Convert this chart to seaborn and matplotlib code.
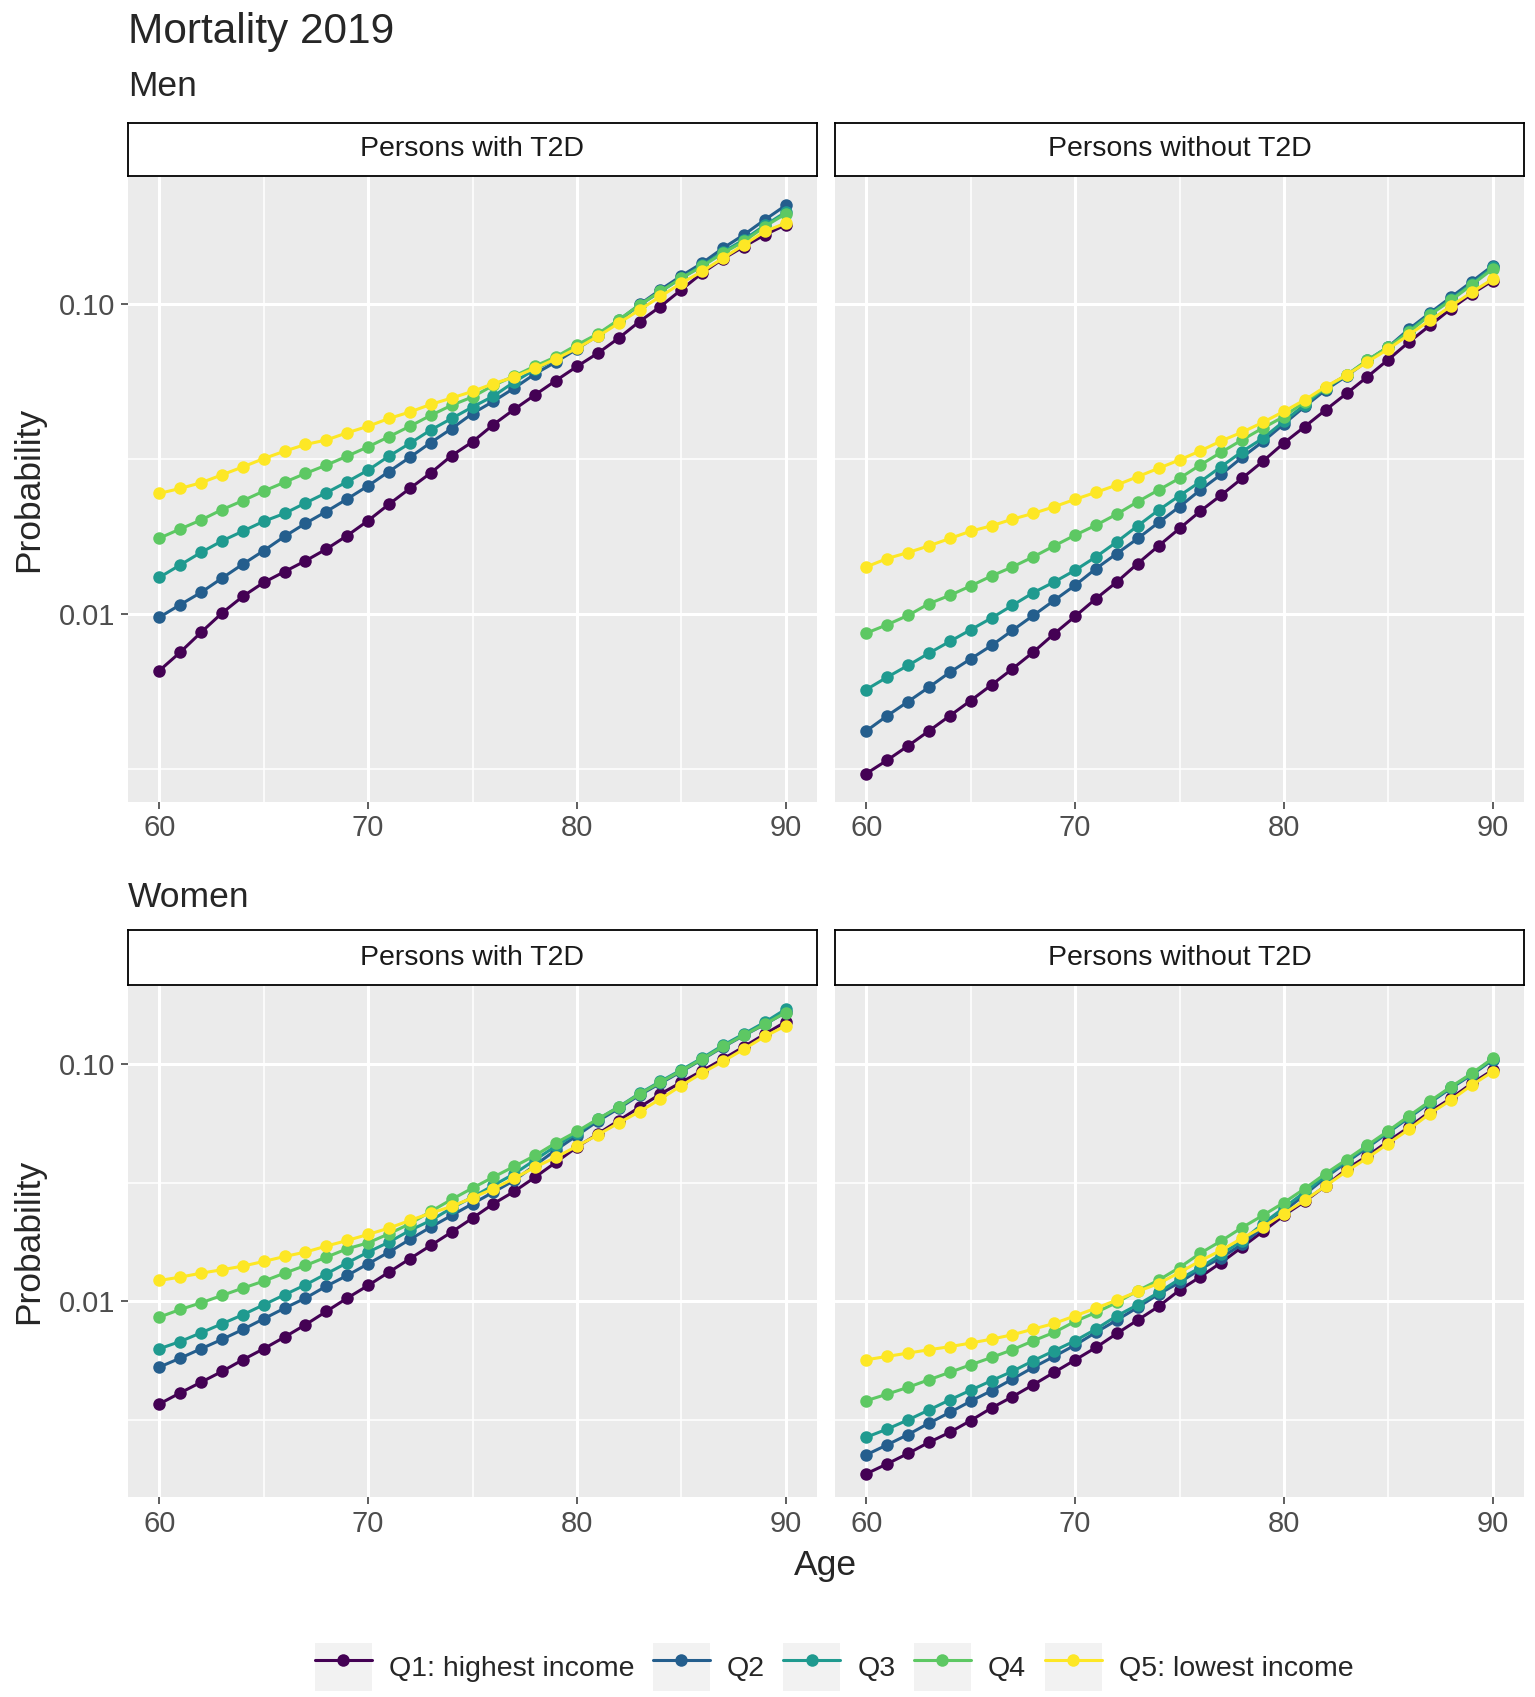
import matplotlib
matplotlib.use("Agg")
import matplotlib.pyplot as plt
import pandas as pd
import seaborn as sns
from matplotlib.ticker import FixedLocator, FuncFormatter, NullFormatter
from matplotlib.patches import Rectangle
from matplotlib.lines import Line2D
from matplotlib.legend_handler import HandlerTuple

ages = list(range(60, 91))
quintiles = ["Q1: highest income", "Q2", "Q3", "Q4", "Q5: lowest income"]
colors = ["#440154", "#245E8D", "#1F9A8F", "#5DC863", "#FDE725"]

# Men, persons with T2D
men_t2d_q1 = [0.00657, 0.00753, 0.00873, 0.01007, 0.0114, 0.01264, 0.0137, 0.01484, 0.0162, 0.0179, 0.0200,
              0.0226, 0.0254, 0.0285, 0.0324, 0.0359, 0.0408, 0.0457, 0.0509, 0.0566, 0.0628,
              0.0693, 0.0775, 0.0877, 0.098, 0.111, 0.1257, 0.1397, 0.1530, 0.167, 0.1797]
men_t2d_q2 = [0.00976, 0.01072, 0.01174, 0.01305, 0.01448, 0.0160, 0.0178, 0.0196, 0.0214, 0.0235, 0.0259,
              0.0288, 0.0320, 0.0357, 0.0396, 0.0443, 0.0485, 0.0535, 0.0595, 0.0650, 0.0715,
              0.079, 0.088, 0.0995, 0.111, 0.123, 0.1353, 0.1512, 0.167, 0.1866, 0.2076]
men_t2d_q3 = [0.01312, 0.0144, 0.0158, 0.0172, 0.0185, 0.0199, 0.0211, 0.0228, 0.0246, 0.0267, 0.0291,
              0.0323, 0.0355, 0.0392, 0.0427, 0.0465, 0.0504, 0.0560, 0.0615, 0.0665, 0.073,
              0.0795, 0.0885, 0.099, 0.1096, 0.121, 0.133, 0.147, 0.161, 0.179, 0.1974]
men_t2d_q4 = [0.01756, 0.0188, 0.0201, 0.0217, 0.0232, 0.0249, 0.0266, 0.0284, 0.0302, 0.0323, 0.0346,
              0.0373, 0.0403, 0.0437, 0.0471, 0.0501, 0.0546, 0.0585, 0.0630, 0.0675, 0.0737,
              0.0800, 0.0888, 0.0993, 0.1096, 0.121, 0.132, 0.1458, 0.1589, 0.1775, 0.1951]
men_t2d_q5 = [0.02449, 0.0254, 0.0265, 0.0281, 0.0298, 0.0317, 0.0335, 0.0352, 0.0364, 0.0384, 0.0403,
              0.0427, 0.0448, 0.0474, 0.0497, 0.0522, 0.0553, 0.0581, 0.0620, 0.0665, 0.0719,
              0.0785, 0.0866, 0.0956, 0.1056, 0.1166, 0.1272, 0.1404, 0.155, 0.1711, 0.182]

# Men, persons without T2D
men_no_q1 = [0.00306, 0.00338, 0.00376, 0.00420, 0.00470, 0.00526, 0.00591, 0.00666, 0.00754, 0.00864, 0.00983,
             0.01121, 0.01269, 0.01455, 0.01659, 0.01887, 0.02147, 0.02418, 0.02739, 0.0311, 0.0356,
             0.0402, 0.0455, 0.0514, 0.0582, 0.0661, 0.0754, 0.0852, 0.0964, 0.1077, 0.1188]
men_no_q2 = [0.00420, 0.00470, 0.00522, 0.00581, 0.00649, 0.00717, 0.00792, 0.00886, 0.00990, 0.01107, 0.01238,
             0.01401, 0.01567, 0.01752, 0.01973, 0.02218, 0.02512, 0.02821, 0.0320, 0.0360, 0.0410,
             0.0467, 0.0528, 0.0585, 0.0655, 0.0726, 0.0830, 0.0935, 0.1050, 0.1179, 0.1327]
men_no_q3 = [0.00571, 0.00626, 0.00683, 0.00748, 0.00816, 0.00890, 0.00971, 0.01067, 0.01172, 0.01269, 0.01384,
             0.01529, 0.01709, 0.01925, 0.02163, 0.02407, 0.02671, 0.02988, 0.0334, 0.0369, 0.0418,
             0.0473, 0.0537, 0.0589, 0.0658, 0.0726, 0.0820, 0.0925, 0.1035, 0.1160, 0.131]
men_no_q4 = [0.00868, 0.00924, 0.00990, 0.01080, 0.01149, 0.01232, 0.01327, 0.01419, 0.01529, 0.01659, 0.01796,
             0.01934, 0.02100, 0.02302, 0.02512, 0.02739, 0.03025, 0.03323, 0.03643, 0.0398, 0.0433,
             0.0484, 0.0537, 0.0589, 0.0658, 0.0726, 0.0811, 0.0922, 0.1026, 0.1151, 0.1295]
men_no_q5 = [0.01419, 0.01510, 0.01579, 0.01659, 0.01752, 0.01850, 0.01925, 0.02023, 0.02111, 0.02218, 0.02343,
             0.02468, 0.02606, 0.02773, 0.02950, 0.03139, 0.03357, 0.03616, 0.03857, 0.0415, 0.0450,
             0.0490, 0.0541, 0.0589, 0.0650, 0.0715, 0.0796, 0.0884, 0.0983, 0.1090, 0.1202]

# Women, persons with T2D
women_t2d_q1 = [0.00370, 0.00412, 0.00457, 0.00507, 0.00568, 0.00632, 0.00708, 0.00798, 0.00908, 0.01033, 0.01168,
                0.01329, 0.01513, 0.01722, 0.01960, 0.02244, 0.02579, 0.02907, 0.0334, 0.0386, 0.0447,
                0.0508, 0.0578, 0.0658, 0.0748, 0.0838, 0.0937, 0.105, 0.1183, 0.1337, 0.1506]
women_t2d_q2 = [0.00529, 0.00577, 0.00632, 0.00692, 0.00762, 0.00845, 0.00937, 0.01033, 0.01160, 0.01287, 0.01441,
                0.01614, 0.01825, 0.02057, 0.02303, 0.02579, 0.02888, 0.03234, 0.0375, 0.0435, 0.0500,
                0.0575, 0.0650, 0.0740, 0.0830, 0.0930, 0.1045, 0.1180, 0.1320, 0.1470, 0.1650]
women_t2d_q3 = [0.00632, 0.00678, 0.00738, 0.00805, 0.00879, 0.00968, 0.01067, 0.01175, 0.01308, 0.01455, 0.01614,
                0.01778, 0.01991, 0.02194, 0.02474, 0.02752, 0.03082, 0.03451, 0.0395, 0.0452, 0.0512,
                0.0585, 0.0660, 0.0752, 0.0845, 0.0945, 0.1060, 0.1200, 0.1340, 0.1500, 0.1702]
women_t2d_q4 = [0.00859, 0.00925, 0.00987, 0.01060, 0.01138, 0.01218, 0.01316, 0.01418, 0.01537, 0.01667, 0.01766,
                0.01928, 0.02124, 0.02394, 0.02690, 0.03003, 0.03341, 0.03706, 0.0412, 0.0466, 0.0520,
                0.0587, 0.0658, 0.0748, 0.0838, 0.0937, 0.1050, 0.1186, 0.1324, 0.1473, 0.1648]
women_t2d_q5 = [0.01226, 0.01266, 0.01316, 0.01360, 0.01409, 0.01474, 0.01547, 0.01614, 0.01711, 0.01807, 0.01916,
                0.02037, 0.02194, 0.02356, 0.02514, 0.02734, 0.02984, 0.0330, 0.0368, 0.0405, 0.0451,
                0.0503, 0.0565, 0.0630, 0.0713, 0.0811, 0.0917, 0.1026, 0.1156, 0.1307, 0.1449]

# Women, persons without T2D
women_no_q1 = [0.00188, 0.00207, 0.00229, 0.00255, 0.00281, 0.00315, 0.00356, 0.00397, 0.00446, 0.00503, 0.00567,
               0.00640, 0.00733, 0.00835, 0.00953, 0.01116, 0.01270, 0.01459, 0.01696, 0.01974, 0.02306,
               0.0264, 0.0307, 0.0361, 0.0410, 0.0473, 0.0543, 0.0630, 0.0717, 0.0829, 0.0943]
women_no_q2 = [0.00226, 0.00249, 0.00275, 0.00307, 0.00341, 0.00380, 0.00421, 0.00471, 0.00528, 0.00587, 0.00655,
               0.00741, 0.00835, 0.00944, 0.01074, 0.01202, 0.01368, 0.01531, 0.01743, 0.0205, 0.0240,
               0.0282, 0.0333, 0.0386, 0.0445, 0.0515, 0.0595, 0.0688, 0.0792, 0.0902, 0.1040]
women_no_q3 = [0.00268, 0.00290, 0.00317, 0.00349, 0.00385, 0.00423, 0.00464, 0.00508, 0.00563, 0.00620, 0.00683,
               0.00765, 0.00870, 0.00968, 0.01091, 0.01242, 0.01390, 0.01582, 0.01800, 0.0213, 0.0248,
               0.0289, 0.0338, 0.0390, 0.0450, 0.0518, 0.0600, 0.0692, 0.0797, 0.0908, 0.1048]
women_no_q4 = [0.00382, 0.00407, 0.00435, 0.00468, 0.00503, 0.00541, 0.00581, 0.00626, 0.00683, 0.00741, 0.00824,
               0.00899, 0.00990, 0.01109, 0.01230, 0.01390, 0.01597, 0.01800, 0.02048, 0.02306, 0.02608,
               0.02988, 0.03457, 0.03960, 0.04550, 0.05232, 0.06053, 0.06982, 0.08023, 0.09134, 0.1057]
women_no_q5 = [0.00568, 0.00587, 0.00606, 0.00626, 0.00645, 0.00668, 0.00694, 0.00724, 0.00765, 0.00808, 0.00870,
               0.00937, 0.01013, 0.01102, 0.01190, 0.01324, 0.01483, 0.01644, 0.01848, 0.02059, 0.02344,
               0.02669, 0.03066, 0.03536, 0.04025, 0.04627, 0.05317, 0.06190, 0.07047, 0.08153, 0.09284]

panels = {
    ("Men", "Persons with T2D"): [men_t2d_q1, men_t2d_q2, men_t2d_q3, men_t2d_q4, men_t2d_q5],
    ("Men", "Persons without T2D"): [men_no_q1, men_no_q2, men_no_q3, men_no_q4, men_no_q5],
    ("Women", "Persons with T2D"): [women_t2d_q1, women_t2d_q2, women_t2d_q3, women_t2d_q4, women_t2d_q5],
    ("Women", "Persons without T2D"): [women_no_q1, women_no_q2, women_no_q3, women_no_q4, women_no_q5],
}

rows = []
for (sex, group), series in panels.items():
    for q, vals in zip(quintiles, series):
        for a, v in zip(ages, vals):
            rows.append({"sex": sex, "group": group, "quintile": q, "age": a, "prob": v})
df = pd.DataFrame(rows)

sns.set_style("darkgrid", {"axes.facecolor": "#EBEBEB", "grid.color": "white"})
plt.rcParams["font.family"] = ["Liberation Sans", "DejaVu Sans"]

W, H = 1535, 1697
fig = plt.figure(figsize=(W / 100, H / 100), dpi=100)


def rect(x0, y0, x1, y1):
    return [x0 / W, 1 - y1 / H, (x1 - x0) / W, (y1 - y0) / H]


labels = {0.01: "0.01", 0.1: "0.10"}
row_layout = [("Men", 177, 802, 123), ("Women", 986, 1497, 930)]
col_layout = [("Persons with T2D", 128, 817), ("Persons without T2D", 835, 1524)]

for sex, top, bottom, strip_top in row_layout:
    first = None
    for group, left, right in col_layout:
        ax = fig.add_axes(rect(left, top, right, bottom), sharey=first)
        sub = df[(df["sex"] == sex) & (df["group"] == group)]
        sns.lineplot(data=sub, x="age", y="prob", hue="quintile", hue_order=quintiles,
                     palette=colors, marker="o", markersize=9, markeredgewidth=0,
                     linewidth=2.2, errorbar=None, legend=False, ax=ax)
        ax.set_yscale("log")
        ax.set_xlabel("")
        ax.set_ylabel("")
        ax.xaxis.set_major_locator(FixedLocator([60, 70, 80, 90]))
        ax.xaxis.set_minor_locator(FixedLocator([65, 75, 85]))
        ax.yaxis.set_major_locator(FixedLocator([0.001, 0.01, 0.1, 1]))
        ax.yaxis.set_minor_locator(FixedLocator([10 ** -3.5, 10 ** -2.5, 10 ** -1.5, 10 ** -0.5]))
        ax.yaxis.set_major_formatter(FuncFormatter(lambda v, p: labels.get(round(v, 4), "")))
        ax.yaxis.set_minor_formatter(NullFormatter())
        ax.grid(which="major", color="white", linewidth=2.2)
        ax.grid(which="minor", color="white", linewidth=1.1)
        ax.tick_params(which="minor", length=0)
        ax.tick_params(which="major", length=5, width=1.1, color="#333333",
                       labelsize=21, labelcolor="#4D4D4D", pad=4)
        ax.tick_params(axis="x", bottom=True)
        ax.tick_params(axis="y", left=True)
        for s in ax.spines.values():
            s.set_visible(False)
        if first is None:
            first = ax
        else:
            ax.tick_params(axis="y", left=False, labelleft=False)

        sax = fig.add_axes(rect(left, strip_top, right, top - 1))
        sax.set_facecolor("white")
        sax.set_xticks([])
        sax.set_yticks([])
        sax.grid(False)
        for s in sax.spines.values():
            s.set_visible(True)
            s.set_color("black")
            s.set_linewidth(1.3)
        sax.text(0.5, 0.5, group, ha="center", va="center", fontsize=20.5,
                 color="#1A1A1A", transform=sax.transAxes)

    fig.text(29 / W, 1 - (top + bottom) / 2 / H, "Probability", rotation=90,
             ha="center", va="center", fontsize=25.5)

fig.text(128 / W, 1 - 43 / H, "Mortality 2019", fontsize=30.5, va="baseline", ha="left")
fig.text(128 / W, 1 - 96 / H, "Men", fontsize=25.5, va="baseline", ha="left")
fig.text(128 / W, 1 - 907 / H, "Women", fontsize=25.5, va="baseline", ha="left")
fig.text(826 / W, 1 - 1565 / H, "Age", fontsize=25.5, ha="center", va="center")

handles = [(Rectangle((0, 0), 1, 1, facecolor="#F2F2F2", edgecolor="none"),
            Line2D([], [], color=c, marker="o", markersize=9, linewidth=2.2, markeredgewidth=0))
           for c in colors]
fig.legend(handles, quintiles, handler_map={tuple: HandlerTuple(ndivide=1, pad=0)},
           loc="center", bbox_to_anchor=(834 / W, 1 - 1667 / H), ncol=5, frameon=False,
           fontsize=20.5, handlelength=2.0, handleheight=2.2, handletextpad=0.6,
           columnspacing=0.65, borderpad=0)

fig.savefig("out.png", dpi=100, facecolor="white")
